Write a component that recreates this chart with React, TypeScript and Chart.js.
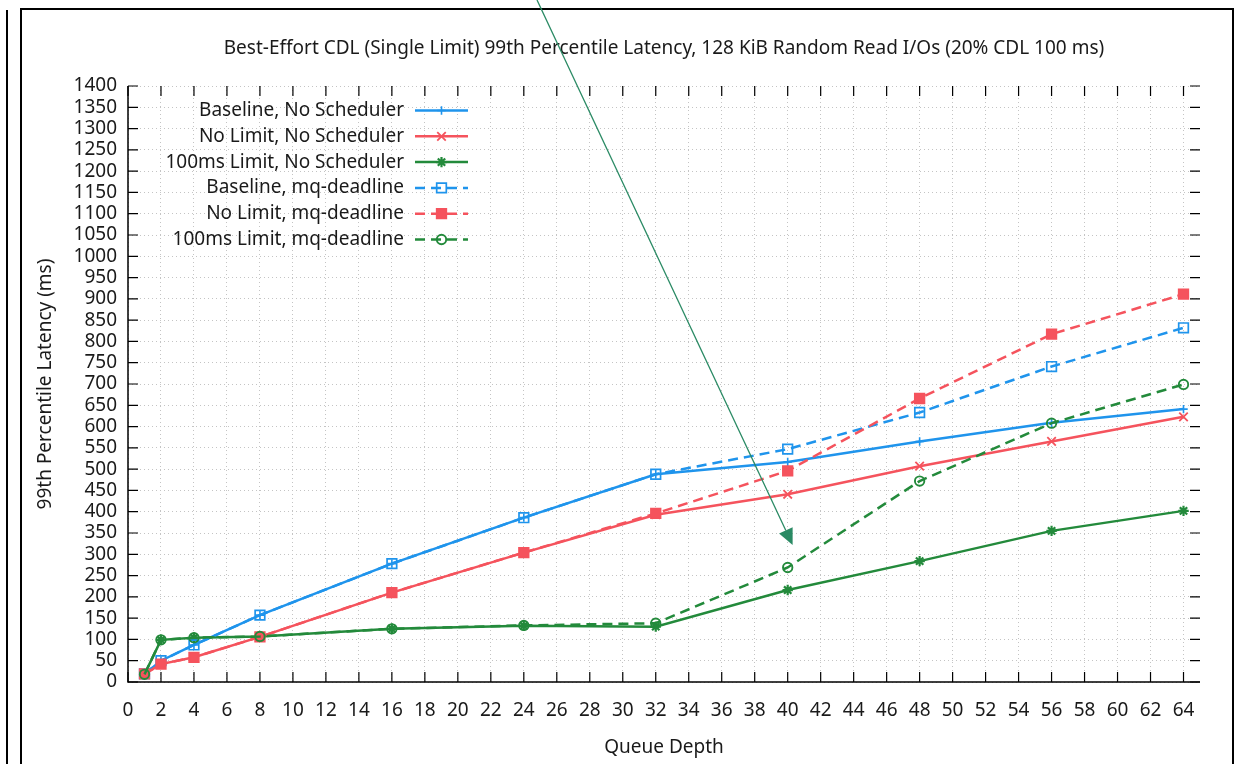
import React, { useEffect, useRef } from "react";
import { Chart, registerables } from "chart.js";

Chart.register(...registerables);

// ---------- data ----------
const queueDepths = [1, 2, 4, 8, 16, 24, 32, 40, 48, 56, 64];

const baselineNoSched = [19, 50, 87, 157, 278, 386, 488, 517, 565, 609, 641];
const noLimitNoSched = [19, 42, 58, 106, 210, 304, 393, 441, 507, 565, 623];
const limitNoSched = [18, 99, 104, 107, 125, 132, 130, 216, 284, 355, 402];
const baselineMq = [19, 50, 87, 157, 278, 386, 488, 547, 633, 741, 832];
const noLimitMq = [19, 42, 58, 106, 210, 304, 396, 496, 666, 817, 911];
const limitMq = [18, 99, 104, 107, 125, 133, 138, 269, 472, 608, 699];

const seriesLabels = [
  "Baseline, No Scheduler",
  "No Limit, No Scheduler",
  "100ms Limit, No Scheduler",
  "Baseline, mq-deadline",
  "No Limit, mq-deadline",
  "100ms Limit, mq-deadline",
];

const titleText =
  "Best-Effort CDL (Single Limit) 99th Percentile Latency, 128 KiB Random Read I/Os (20% CDL 100 ms)";
const xTitle = "Queue Depth";
const yTitle = "99th Percentile Latency (ms)";

const xMin = 0;
const xMax = 65;
const xStep = 2;
const yMin = 0;
const yMax = 1400;
const yStep = 50;

// arrow annotation in data coordinates
const arrowFrom = { x: 24.8, y: 1602 };
const arrowTo = { x: 40.3, y: 322 };

// ---------- style ----------
const FONT = "'Noto Sans', sans-serif";
const FS = 19;
const TEXT = "#1a1a1a";
const BLUE = "#1f94ec";
const RED = "#f5535d";
const GREEN = "#238a3b";
const ARROW = "#2a8a64";
const TICK_LEN = 10;

function drawMarker(
  ctx: CanvasRenderingContext2D,
  style: string,
  x: number,
  y: number,
  r: number,
  fill: string,
  stroke: string,
  lw: number
) {
  ctx.save();
  ctx.setLineDash([]);
  ctx.lineWidth = lw;
  ctx.strokeStyle = stroke;
  ctx.fillStyle = fill;
  ctx.beginPath();
  const d = r * Math.SQRT1_2;
  if (style === "cross" || style === "star") {
    ctx.moveTo(x - r, y);
    ctx.lineTo(x + r, y);
    ctx.moveTo(x, y - r);
    ctx.lineTo(x, y + r);
  }
  if (style === "crossRot" || style === "star") {
    ctx.moveTo(x - d, y - d);
    ctx.lineTo(x + d, y + d);
    ctx.moveTo(x - d, y + d);
    ctx.lineTo(x + d, y - d);
  }
  if (style === "rect") {
    ctx.rect(x - d, y - d, 2 * d, 2 * d);
    ctx.fill();
  }
  if (style === "circle") {
    ctx.arc(x, y, r, 0, Math.PI * 2);
    ctx.fill();
  }
  ctx.stroke();
  ctx.restore();
}

export default function App() {
  const ref = useRef<HTMLCanvasElement>(null);

  useEffect(() => {
    const canvas = ref.current;
    if (!canvas) return;

    const pts = (arr: number[]) => queueDepths.map((x, i) => ({ x, y: arr[i] }));

    const mk = (
      idx: number,
      arr: number[],
      color: string,
      dashed: boolean,
      pointStyle: string,
      radius: number,
      filled: boolean,
      pbw: number
    ) => ({
      label: seriesLabels[idx],
      data: pts(arr),
      borderColor: color,
      backgroundColor: color,
      borderWidth: 2.5,
      borderDash: dashed ? [10, 6] : [],
      tension: 0,
      pointStyle,
      pointRadius: radius,
      pointHoverRadius: radius,
      pointBorderWidth: pbw,
      pointBorderColor: color,
      pointBackgroundColor: filled ? color : "rgba(0,0,0,0)",
      order: 5 - idx,
      fill: false,
    });

    const datasets = [
      mk(0, baselineNoSched, BLUE, false, "cross", 4.2, true, 1.6),
      mk(1, noLimitNoSched, RED, false, "crossRot", 6, true, 1.8),
      mk(2, limitNoSched, GREEN, false, "star", 5.2, true, 2.2),
      mk(3, baselineMq, BLUE, true, "rect", 6.8, false, 1.7),
      mk(4, noLimitMq, RED, true, "rect", 6.8, true, 1.7),
      mk(5, limitMq, GREEN, true, "circle", 4.7, false, 1.9),
    ];

    const decor = {
      id: "gnuplotDecor",
      afterDraw(chart: any) {
        const ctx: CanvasRenderingContext2D = chart.ctx;
        const a = chart.chartArea;
        const xs = chart.scales.x;
        const ys = chart.scales.y;
        ctx.save();
        ctx.setLineDash([]);
        ctx.strokeStyle = "#000";

        // axes (left + bottom)
        ctx.lineWidth = 1.5;
        ctx.beginPath();
        ctx.moveTo(a.left, a.top);
        ctx.lineTo(a.left, a.bottom);
        ctx.lineTo(a.right, a.bottom);
        ctx.stroke();

        // inward ticks, mirrored
        ctx.lineWidth = 1.2;
        ctx.beginPath();
        xs.ticks.forEach((t: any) => {
          const px = xs.getPixelForValue(t.value);
          ctx.moveTo(px, a.bottom);
          ctx.lineTo(px, a.bottom - TICK_LEN);
          ctx.moveTo(px, a.top);
          ctx.lineTo(px, a.top + TICK_LEN);
        });
        ys.ticks.forEach((t: any) => {
          const py = ys.getPixelForValue(t.value);
          ctx.moveTo(a.left, py);
          ctx.lineTo(a.left + TICK_LEN, py);
          ctx.moveTo(a.right, py);
          ctx.lineTo(a.right - TICK_LEN, py);
        });
        ctx.stroke();

        // legend (gnuplot style: text right aligned, sample on the right)
        const textRight = a.left + 276;
        const sampleStart = a.left + 287;
        const sampleEnd = a.left + 340;
        const markerX = a.left + 313.5;
        ctx.font = `${FS}px ${FONT}`;
        ctx.textAlign = "right";
        ctx.textBaseline = "middle";
        chart.data.datasets.forEach((ds: any, i: number) => {
          const y = a.top + 24.5 + i * 25.8;
          ctx.fillStyle = TEXT;
          ctx.fillText(ds.label, textRight, y);
          ctx.save();
          ctx.strokeStyle = ds.borderColor;
          ctx.lineWidth = ds.borderWidth;
          ctx.setLineDash(ds.borderDash || []);
          ctx.beginPath();
          ctx.moveTo(sampleStart, y);
          ctx.lineTo(sampleEnd, y);
          ctx.stroke();
          ctx.restore();
          drawMarker(
            ctx,
            ds.pointStyle,
            markerX,
            y,
            ds.pointRadius,
            ds.pointBackgroundColor,
            ds.pointBorderColor,
            ds.pointBorderWidth
          );
        });

        // arrow annotation
        const x1 = xs.getPixelForValue(arrowFrom.x);
        const y1 = ys.getPixelForValue(arrowFrom.y);
        const x2 = xs.getPixelForValue(arrowTo.x);
        const y2 = ys.getPixelForValue(arrowTo.y);
        const ang = Math.atan2(y2 - y1, x2 - x1);
        const hl = 16;
        const hw = 7.5;
        const bx = x2 - hl * Math.cos(ang);
        const by = y2 - hl * Math.sin(ang);
        ctx.strokeStyle = ARROW;
        ctx.fillStyle = ARROW;
        ctx.lineWidth = 1.3;
        ctx.beginPath();
        ctx.moveTo(x1, y1);
        ctx.lineTo(bx, by);
        ctx.stroke();
        ctx.beginPath();
        ctx.moveTo(x2, y2);
        ctx.lineTo(bx + hw * Math.sin(ang), by - hw * Math.cos(ang));
        ctx.lineTo(bx - hw * Math.sin(ang), by + hw * Math.cos(ang));
        ctx.closePath();
        ctx.fill();

        ctx.restore();
      },
    };

    const tickFont = { family: FONT, size: FS };

    const chart = new Chart(canvas, {
      type: "line",
      data: { datasets: datasets as any },
      options: {
        animation: false,
        responsive: false,
        maintainAspectRatio: false,
        devicePixelRatio: 1,
        events: [],
        layout: { padding: { left: 0, right: 43, top: 0, bottom: 0 } },
        font: { family: FONT, size: FS } as any,
        color: TEXT,
        plugins: {
          legend: { display: false },
          tooltip: { enabled: false },
          title: {
            display: true,
            fullSize: false,
            text: titleText,
            color: TEXT,
            font: { family: FONT, size: FS, weight: "normal" as any },
            padding: { top: 37, bottom: 26.2 },
          },
        },
        scales: {
          x: {
            type: "linear",
            min: xMin,
            max: xMax,
            afterFit: (s: any) => {
              s.height = 82;
            },
            ticks: {
              stepSize: xStep,
              includeBounds: false,
              autoSkip: false,
              maxRotation: 0,
              minRotation: 0,
              padding: 17,
              color: TEXT,
              font: tickFont,
              callback: (v: any) => String(v),
            },
            grid: {
              color: "#c4c4c4",
              lineWidth: 1,
              drawTicks: false,
            },
            border: { display: false, dash: [1, 3] },
            title: {
              display: true,
              text: xTitle,
              color: TEXT,
              font: tickFont,
              padding: { top: 0, bottom: 5 },
            },
          },
          y: {
            type: "linear",
            min: yMin,
            max: yMax,
            afterFit: (s: any) => {
              s.width = 128;
            },
            ticks: {
              stepSize: yStep,
              autoSkip: false,
              padding: 11,
              color: TEXT,
              font: tickFont,
              callback: (v: any) => String(v),
            },
            grid: {
              color: "#c4c4c4",
              lineWidth: 1,
              drawTicks: false,
            },
            border: { display: false, dash: [1, 3] },
            title: {
              display: true,
              text: yTitle,
              color: TEXT,
              font: tickFont,
              padding: { top: 34, bottom: 0 },
            },
          },
        },
      },
      plugins: [decor],
    } as any);

    return () => chart.destroy();
  }, []);

  return (
    <div
      style={{
        position: "absolute",
        left: 0,
        top: 0,
        width: 1243,
        height: 764,
        overflow: "hidden",
        background: "#fff",
      }}
    >
      <div
        style={{
          position: "absolute",
          left: 6,
          top: 10,
          width: 2,
          height: 760,
          background: "#000",
        }}
      />
      <div
        style={{
          position: "absolute",
          left: 20,
          top: 8,
          width: 1214,
          height: 800,
          border: "2px solid #000",
          boxSizing: "border-box",
        }}
      />
      <canvas
        ref={ref}
        width={1243}
        height={764}
        style={{ position: "absolute", left: 0, top: 0, width: 1243, height: 764 }}
      />
    </div>
  );
}
